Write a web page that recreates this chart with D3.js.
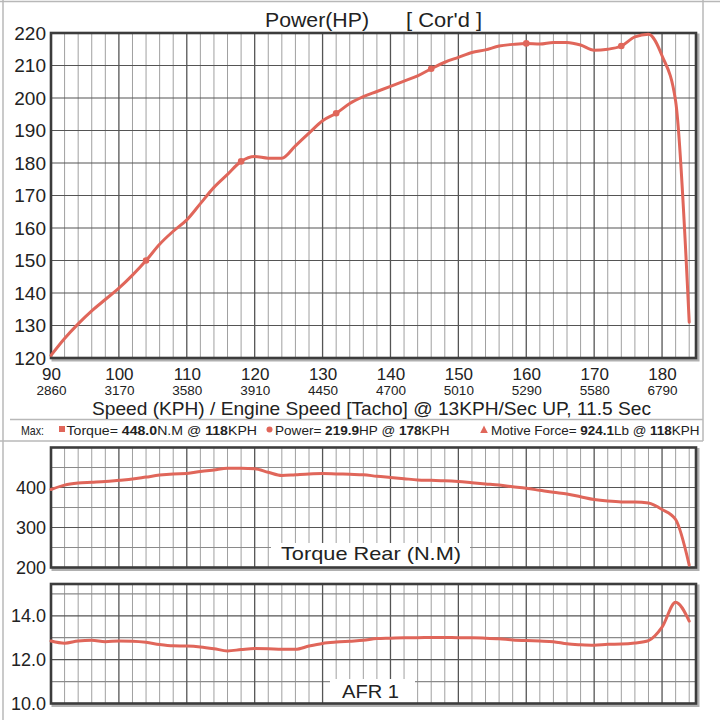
<!DOCTYPE html>
<html><head><meta charset="utf-8">
<script src="https://cdn.jsdelivr.net/npm/d3@7"></script>
<style>html,body{margin:0;padding:0;background:#fff;} svg{display:block;font-family:"Liberation Sans",Arial,sans-serif;}</style>
</head><body><svg id="c" width="720" height="720"></svg>
<script>
// ---------------- DATA ----------------
const speedKph = [90,92,94,96,98,100,102,104,106,108,110,112,114,116,118,120,122,124,126,128,130,132,134,136,138,140,142,144,146,148,150,152,154,156,158,160,162,164,166,168,170,172,174,176,178,180,182,184];
const powerHp = [120.8,126,130.5,134.5,138,141.5,145.5,150,155,159,162.5,167.5,172.5,176.5,180.5,182,181.5,181.5,185.3,189.2,193,195.3,198.3,200.4,202,203.6,205.2,206.8,209,211,212.5,214,214.8,216,216.5,216.8,216.6,217.1,217.1,216.3,214.7,215,216,218.8,219.6,213,199,131];
const torqueNm = [395,406,411,413,415,418,421,426,431,434,435,440,444,448,448,447,438,430,432,434,435,434,433,432,428,425,422,419,418,417,415,412,409,406,402,398,393,388,384,377,370,366,364,364,361,345,320,206];
const afr = [12.85,12.75,12.85,12.88,12.82,12.85,12.84,12.79,12.69,12.63,12.62,12.58,12.50,12.40,12.46,12.51,12.50,12.47,12.47,12.62,12.74,12.80,12.84,12.88,12.96,12.98,13.0,13.0,13.01,13.01,13.0,13.0,12.98,12.95,12.9,12.87,12.85,12.82,12.72,12.68,12.66,12.7,12.71,12.76,12.87,13.48,14.62,13.76];
const powerMarkerKph = [104,118,132,146,160,174];
const xTickKph = [90,100,110,120,130,140,150,160,170,180];
const xTickRpm = [2860,3170,3580,3910,4450,4700,5010,5290,5580,6790];
const powerTicks = [120,130,140,150,160,170,180,190,200,210,220];
const torqueTicks = [200,300,400];
const torqueGrid = [250,300,350,400,450];
const afrTicks = [10,12,14];
const afrGrid = [11,12,13,14,15];

// ---------------- SETUP ----------------
const RED = '#e0665a';
const TXT = '#222';
const svg = d3.select('#c');
const x = d3.scaleLinear().domain([90,185]).range([51,696]);
const yP = d3.scaleLinear().domain([120,220]).range([358,33]);
const yT = d3.scaleLinear().domain([200,500]).range([567.5,447.5]);
const yA = d3.scaleLinear().domain([10,15.45]).range([703.5,584]);

// outer frame
const frameC = '#b8b8b8';
svg.append('line').attr('x1',3).attr('y1',0).attr('x2',3).attr('y2',720).attr('stroke',frameC).attr('stroke-width',1.5);
svg.append('line').attr('x1',0).attr('y1',1.5).attr('x2',720).attr('y2',1.5).attr('stroke',frameC).attr('stroke-width',1.5);
svg.append('line').attr('x1',703).attr('y1',0).attr('x2',703).attr('y2',441).attr('stroke',frameC).attr('stroke-width',1.5);
svg.append('line').attr('x1',10).attr('y1',419.5).attr('x2',703).attr('y2',419.5).attr('stroke',frameC).attr('stroke-width',1.5);
svg.append('line').attr('x1',0).attr('y1',441).attr('x2',703).attr('y2',441).attr('stroke',frameC).attr('stroke-width',1.5);

function panel(y, gridVals, strongVals, label) {
  const [yb, yt] = y.range();
  const x0 = x.range()[0], x1 = x.range()[1];
  const g = svg.append('g');
  g.append('rect').attr('x',x0+2).attr('y',yt+2).attr('width',x1-x0).attr('height',yb-yt)
    .attr('fill','none').attr('stroke','#b0b0b0').attr('stroke-width',3);
  g.append('rect').attr('x',x0).attr('y',yt).attr('width',x1-x0).attr('height',yb-yt).attr('fill','#fff');
  const minor = d3.range(92,185,2).filter(v => v % 10 !== 0);
  const major = d3.range(100,185,10);
  g.selectAll(null).data(minor).enter().append('line')
    .attr('x1',d=>x(d)).attr('x2',d=>x(d)).attr('y1',yt).attr('y2',yb)
    .attr('stroke','#a0a0a0').attr('stroke-width',1);
  g.selectAll(null).data(gridVals).enter().append('line')
    .attr('x1',x0).attr('x2',x1).attr('y1',d=>y(d)).attr('y2',d=>y(d))
    .attr('stroke',d=>strongVals.includes(d)?'#555':'#8a8a8a').attr('stroke-width',1.2);
  g.selectAll(null).data(major).enter().append('line')
    .attr('x1',d=>x(d)).attr('x2',d=>x(d)).attr('y1',yt).attr('y2',yb)
    .attr('stroke','#555').attr('stroke-width',1.3);
  if (label) {
    g.append('rect').attr('x',label.bx).attr('y',label.by).attr('width',label.bw).attr('height',yb-label.by).attr('fill','#fff');
    g.append('text').attr('x',label.tx).attr('y',label.ty).attr('font-size',label.fs)
      .attr('textLength',label.tl).attr('lengthAdjust','spacingAndGlyphs')
      .attr('fill',TXT).text(label.text);
  }
  g.append('rect').attr('x',x0).attr('y',yt).attr('width',x1-x0).attr('height',yb-yt)
    .attr('fill','none').attr('stroke','#3c3c3c').attr('stroke-width',2.6);
  return g;
}

function yAxis(scale, ticks, fmt, fs) {
  const a = svg.append('g').attr('transform','translate(49,0)')
    .call(d3.axisLeft(scale).tickValues(ticks).tickSize(0).tickPadding(3).tickFormat(fmt));
  a.select('.domain').remove();
  a.attr('font-family',null).attr('font-size',null);
  a.selectAll('text').attr('font-size',fs).attr('fill',TXT);
}

function curve(y, vals, width) {
  const line = d3.line().x((d,i)=>x(speedKph[i])).y(d=>y(d)).curve(d3.curveMonotoneX);
  svg.append('path').datum(vals).attr('d',line).attr('fill','none')
    .attr('stroke',RED).attr('stroke-width',width).attr('stroke-linejoin','round').attr('stroke-linecap','round');
}

// ---------------- MAIN POWER PANEL ----------------
panel(yP, powerTicks.slice(1,-1), powerTicks, null);
yAxis(yP, powerTicks, d3.format('d'), 19);
curve(yP, powerHp, 3);
svg.selectAll(null).data(powerMarkerKph).enter().append('circle')
  .attr('cx',d=>x(d)).attr('cy',d=>yP(powerHp[speedKph.indexOf(d)])).attr('r',3.3).attr('fill',RED);

// title
svg.append('text').attr('x',265).attr('y',27).attr('font-size',20).attr('fill',TXT)
  .attr('textLength',104).attr('lengthAdjust','spacingAndGlyphs').text('Power(HP)');
svg.append('text').attr('x',406).attr('y',27).attr('font-size',20).attr('fill',TXT)
  .attr('textLength',76).attr('lengthAdjust','spacingAndGlyphs').text("[ Cor'd ]");

// x axis labels (KPH row, then tacho RPM row)
const xa1 = svg.append('g').attr('transform','translate(0,358)')
  .call(d3.axisBottom(x).tickValues(xTickKph).tickSize(0).tickPadding(9.8).tickFormat(d3.format('d')));
xa1.select('.domain').remove();
xa1.attr('font-family',null).attr('font-size',null);
xa1.selectAll('text').attr('font-size',17).attr('fill',TXT);
const xa2 = svg.append('g').attr('transform','translate(0,358)')
  .call(d3.axisBottom(x).tickValues(xTickKph).tickSize(0).tickPadding(27.2).tickFormat((d,i)=>xTickRpm[i]));
xa2.select('.domain').remove();
xa2.attr('font-family',null).attr('font-size',null);
xa2.selectAll('text').attr('font-size',13.5).attr('fill',TXT);
svg.append('text').attr('x',92).attr('y',415).attr('font-size',18.5).attr('fill',TXT)
  .attr('textLength',559).attr('lengthAdjust','spacingAndGlyphs')
  .text('Speed (KPH) / Engine Speed [Tacho] @ 13KPH/Sec UP, 11.5 Sec');

// ---------------- LEGEND / MAX LINE ----------------
const LY = 435;
svg.append('text').attr('x',21).attr('y',LY).attr('font-size',13).attr('fill',TXT)
  .attr('textLength',23).attr('lengthAdjust','spacingAndGlyphs').text('Max:');
svg.append('rect').attr('x',59).attr('y',LY-9).attr('width',6).attr('height',6).attr('fill',RED);
svg.append('circle').attr('cx',269.5).attr('cy',LY-5.5).attr('r',3).attr('fill',RED);
svg.append('path').attr('d',`M${484-3.8},${LY-2} L${484+3.8},${LY-2} L${484},${LY-9.5} Z`).attr('fill',RED);
function legendGroup(x0, len, parts) {
  const t = svg.append('text').attr('x',x0).attr('y',LY).attr('font-size',13).attr('fill',TXT)
    .attr('textLength',len).attr('lengthAdjust','spacingAndGlyphs');
  parts.forEach(p => t.append('tspan').attr('font-weight',p[1]?'bold':'normal').text(p[0]));
}
legendGroup(66.5, 190.5, [['Torque= ',0],['448.0',1],['N.M @ ',0],['118',1],['KPH',0]]);
legendGroup(275, 174.5, [['Power= ',0],['219.9',1],['HP @ ',0],['178',1],['KPH',0]]);
legendGroup(491, 208.5, [['Motive Force= ',0],['924.1',1],['Lb @ ',0],['118',1],['KPH',0]]);

// ---------------- TORQUE PANEL ----------------
panel(yT, torqueGrid, torqueTicks, {bx:271,by:543,bw:199,tx:281,ty:560,fs:19,tl:180,text:'Torque Rear (N.M)'});
yAxis(yT, torqueTicks, d3.format('d'), 18);
curve(yT, torqueNm, 3);

// ---------------- AFR PANEL ----------------
panel(yA, afrGrid, afrTicks, {bx:330,by:679,bw:85,tx:342,ty:698,fs:18,tl:57,text:'AFR 1'});
yAxis(yA, afrTicks, d3.format('.1f'), 18);
curve(yA, afr, 3);
</script></body></html>
